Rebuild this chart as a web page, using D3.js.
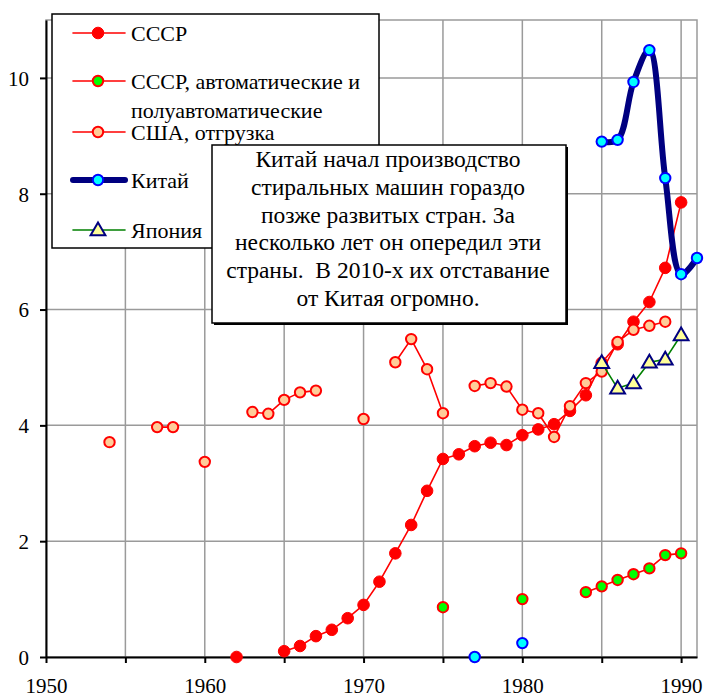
<!DOCTYPE html>
<html>
<head>
<meta charset="utf-8">
<script src="https://cdn.jsdelivr.net/npm/d3@7"></script>
<style>
  html, body { margin: 0; padding: 0; background: #fff; }
  svg { display: block; font-family: "Liberation Serif", "Times New Roman", serif; }
</style>
</head>
<body>
<svg id="chart" width="704" height="697"></svg>
<script>
// Washing machine output, per series: years and values
const ussrYears   = [1962, 1965, 1966, 1967, 1968, 1969, 1970, 1971, 1972, 1973, 1974, 1975, 1976, 1977, 1978, 1979, 1980, 1981, 1982, 1983, 1984, 1985, 1986, 1987, 1988, 1989, 1990];
const ussrValues  = [0.0, 0.1, 0.19, 0.36, 0.47, 0.67, 0.9, 1.3, 1.79, 2.28, 2.87, 3.42, 3.5, 3.64, 3.7, 3.66, 3.83, 3.93, 4.02, 4.25, 4.52, 5.08, 5.4, 5.79, 6.13, 6.72, 7.85];

const autoYears   = [1975, 1980, 1984, 1985, 1986, 1987, 1988, 1989, 1990];
const autoValues  = [0.86, 1.0, 1.12, 1.22, 1.33, 1.43, 1.53, 1.76, 1.79];

const usaYears    = [1954, 1957, 1958, 1960, 1963, 1964, 1965, 1966, 1967, 1970, 1972, 1973, 1974, 1975, 1977, 1978, 1979, 1980, 1981, 1982, 1983, 1984, 1985, 1986, 1987, 1988, 1989];
const usaValues   = [3.71, 3.97, 3.97, 3.37, 4.23, 4.2, 4.44, 4.57, 4.6, 4.11, 5.09, 5.49, 4.97, 4.21, 4.68, 4.73, 4.67, 4.27, 4.21, 3.8, 4.33, 4.73, 4.93, 5.44, 5.65, 5.72, 5.79];

const chinaYears  = [1977, 1980, 1985, 1986, 1987, 1988, 1989, 1990, 1991];
const chinaValues = [0.0, 0.24, 8.9, 8.93, 9.93, 10.48, 8.27, 6.61, 6.89];

const japanYears  = [1985, 1986, 1987, 1988, 1989, 1990];
const japanValues = [5.08, 4.64, 4.73, 5.09, 5.14, 5.56];

const yTicks = [0, 2, 4, 6, 8, 10];
const xTicks = [1950, 1955, 1960, 1965, 1970, 1975, 1980, 1985, 1990];
const xLabels = [1950, 1960, 1970, 1980, 1990];

const noteLines = [
  "Китай начал производство",
  "стиральных машин гораздо",
  "позже развитых стран. За",
  "несколько лет он опередил эти",
  "страны.  В 2010-х их отставание",
  "от Китая огромно."
];

const svg = d3.select("#chart");
const plotLeft = 46, plotRight = 697, plotTop = 20, plotBottom = 657;

const x = d3.scaleLinear().domain([1950, 1991]).range([plotLeft, plotRight]);
const y = d3.scaleLinear().domain([0, 11]).range([plotBottom, plotTop]);

// plot area frame and grid
svg.append("rect")
  .attr("x", plotLeft).attr("y", plotTop)
  .attr("width", plotRight - plotLeft).attr("height", plotBottom - plotTop)
  .attr("fill", "#fff").attr("stroke", "#9a9a9a").attr("stroke-width", 1.5);

const grid = svg.append("g").attr("stroke", "#9a9a9a").attr("stroke-width", 1.5);
grid.selectAll("line.v").data(xTicks.filter(d => d > 1950)).join("line")
  .attr("class", "v")
  .attr("x1", d => x(d)).attr("x2", d => x(d))
  .attr("y1", plotTop).attr("y2", plotBottom);
grid.selectAll("line.h").data(yTicks.filter(d => d > 0)).join("line")
  .attr("class", "h")
  .attr("x1", plotLeft).attr("x2", plotRight)
  .attr("y1", d => y(d)).attr("y2", d => y(d));

// axes
const yAxis = svg.append("g")
  .attr("transform", `translate(${plotLeft},0)`)
  .call(d3.axisLeft(y).tickValues(yTicks).tickSize(6).tickSizeOuter(0).tickPadding(11).tickFormat(d3.format("d")));
const xAxis = svg.append("g")
  .attr("transform", `translate(0,${plotBottom})`)
  .call(d3.axisBottom(x).tickValues(xTicks).tickSize(6).tickSizeOuter(0).tickPadding(15)
    .tickFormat(d => xLabels.includes(d) ? String(d) : ""));
[yAxis, xAxis].forEach(g => {
  g.attr("font-family", null);
  g.select(".domain").attr("stroke", "#000").attr("stroke-width", 2);
  g.selectAll(".tick line").attr("stroke", "#000").attr("stroke-width", 2);
  g.selectAll(".tick text").attr("fill", "#000").style("font-size", "21px")
    .style("font-family", "'Liberation Serif', 'Times New Roman', serif");
});
yAxis.selectAll(".tick text").attr("dy", "0.35em");

// split a series into runs of consecutive years
function runs(years, values) {
  const out = [];
  let cur = [];
  years.forEach((yr, i) => {
    if (cur.length && yr - cur[cur.length - 1].year > 1) { out.push(cur); cur = []; }
    cur.push({ year: yr, value: values[i] });
  });
  if (cur.length) out.push(cur);
  return out;
}
function pts(years, values) { return years.map((yr, i) => ({ year: yr, value: values[i] })); }

const straight = d3.line().x(d => x(d.year)).y(d => y(d.value));
const smooth = d3.line().x(d => x(d.year)).y(d => y(d.value)).curve(d3.curveCatmullRom.alpha(0.5));

const series = [
  { name: "СССР", years: ussrYears, values: ussrValues, line: "#ff0000", lw: 1.6, curve: straight,
    marker: "circle", fill: "#ff0000", stroke: "#ff0000", sw: 1 },
  { name: "СССР, автоматические и", name2: "полуавтоматические", years: autoYears, values: autoValues,
    line: "#ff0000", lw: 1.6, curve: straight, marker: "circle", fill: "#00ff00", stroke: "#ff0000", sw: 2 },
  { name: "США, отгрузка", years: usaYears, values: usaValues, line: "#ff0000", lw: 1.6, curve: straight,
    marker: "circle", fill: "#ffcc99", stroke: "#ff0000", sw: 2 },
  { name: "Китай", years: chinaYears, values: chinaValues, line: "#000080", lw: 6, curve: smooth,
    marker: "circle", fill: "#00ffff", stroke: "#0000ff", sw: 2 },
  { name: "Япония", years: japanYears, values: japanValues, line: "#008000", lw: 1.6, curve: straight,
    marker: "triangle", fill: "#ffff99", stroke: "#000080", sw: 2 }
];

const triangle = d3.symbol().type(d3.symbolTriangle).size(95);

function drawMarker(g, s, cx, cy) {
  if (s.marker === "circle") {
    g.append("circle").attr("cx", cx).attr("cy", cy).attr("r", s.sw > 1 ? 5.2 : 5.8)
      .attr("fill", s.fill).attr("stroke", s.stroke).attr("stroke-width", s.sw);
  } else {
    g.append("path").attr("d", triangle).attr("transform", `translate(${cx},${cy + 1})`)
      .attr("fill", s.fill).attr("stroke", s.stroke).attr("stroke-width", s.sw);
  }
}

series.forEach(s => {
  const g = svg.append("g");
  runs(s.years, s.values).filter(r => r.length > 1).forEach(r => {
    g.append("path").attr("d", s.curve(r)).attr("fill", "none")
      .attr("stroke", s.line).attr("stroke-width", s.lw)
      .attr("stroke-linejoin", "round").attr("stroke-linecap", "round");
  });
  pts(s.years, s.values).forEach(p => drawMarker(g, s, x(p.year), y(p.value)));
});

// legend
const legend = svg.append("g");
legend.append("rect").attr("x", 52).attr("y", 14).attr("width", 327).attr("height", 234)
  .attr("fill", "#fff").attr("stroke", "#000").attr("stroke-width", 1.5);
const rowY = [33, 81, 132, 180, 230];
series.forEach((s, i) => {
  const cy = rowY[i];
  legend.append("line").attr("x1", 73).attr("x2", 125).attr("y1", cy).attr("y2", cy)
    .attr("stroke", s.line).attr("stroke-width", s.lw).attr("stroke-linecap", "round");
  drawMarker(legend, s, 98, cy);
  legend.append("text").attr("x", 131).attr("y", cy + 7.5)
    .style("font-size", "22px").attr("fill", "#000").text(s.name);
  if (s.name2) {
    legend.append("text").attr("x", 131).attr("y", cy + 37)
      .style("font-size", "22px").attr("fill", "#000").text(s.name2);
  }
});

// annotation box
const note = svg.append("g");
note.append("rect").attr("x", 214).attr("y", 147).attr("width", 354).attr("height", 178).attr("fill", "#000");
note.append("rect").attr("x", 212).attr("y", 145).attr("width", 354).attr("height", 178)
  .attr("fill", "#fff").attr("stroke", "#000").attr("stroke-width", 1.5);
note.selectAll("text").data(noteLines).join("text")
  .attr("x", 388).attr("y", (d, i) => 167 + i * 27.8)
  .attr("text-anchor", "middle").attr("xml:space", "preserve")
  .style("white-space", "pre").style("font-size", "23.5px").attr("fill", "#000")
  .text(d => d);
</script>
</body>
</html>
